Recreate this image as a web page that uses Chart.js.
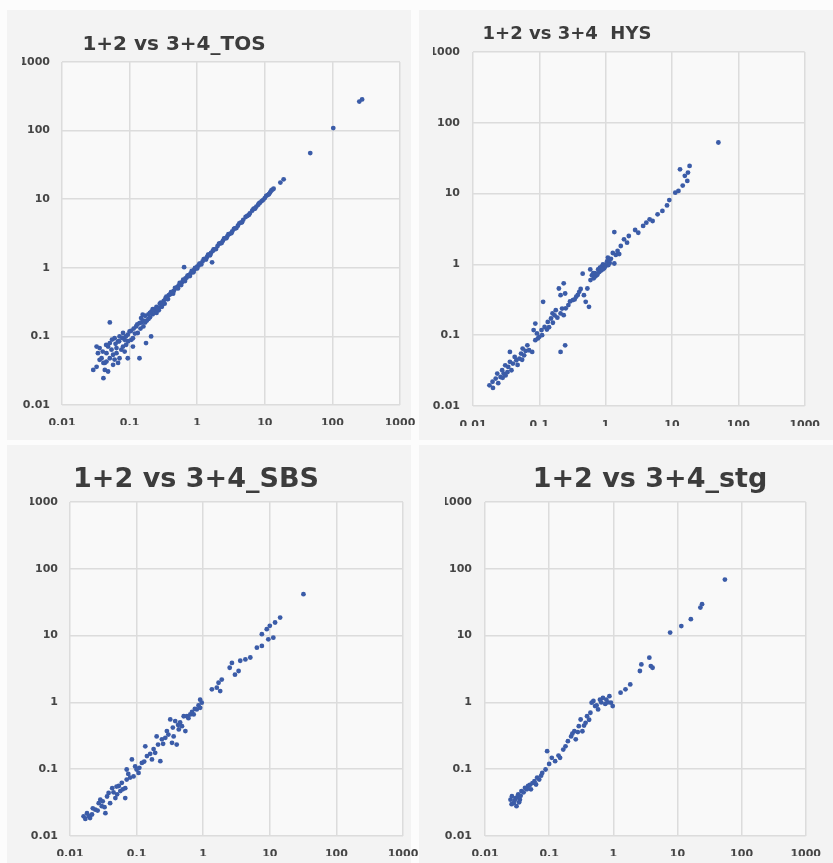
<!DOCTYPE html>
<html><head><meta charset="utf-8">
<script src="https://cdn.jsdelivr.net/npm/chart.js@4/dist/chart.umd.min.js"></script>
<style>
html,body{margin:0;padding:0;background:#fcfcfc;width:833px;height:863px;overflow:hidden;position:relative;}
.panel{position:absolute;background:#f3f3f3;}
.title{position:absolute;font-family:"DejaVu Sans",sans-serif;font-weight:bold;color:#3c3c3c;white-space:pre;transform:translate(-50%,-50%);line-height:1;}
canvas{position:absolute;left:0;top:0;}
</style></head><body>
<div class="panel" style="left:7px;top:10px;width:404px;height:430px"></div>
<div class="panel" style="left:419px;top:10px;width:414px;height:430px"></div>
<div class="panel" style="left:7px;top:445px;width:404px;height:418px"></div>
<div class="panel" style="left:419px;top:445px;width:414px;height:418px"></div>
<canvas id="c1" width="833" height="863"></canvas>
<canvas id="c2" width="833" height="863"></canvas>
<canvas id="c3" width="833" height="863"></canvas>
<canvas id="c4" width="833" height="863"></canvas>
<div class="title" style="left:174px;top:43px;font-size:20px">1+2 vs 3+4_TOS</div>
<div class="title" style="left:567px;top:33px;font-size:18px">1+2 vs 3+4  HYS</div>
<div class="title" style="left:196px;top:477px;font-size:27px">1+2 vs 3+4_SBS</div>
<div class="title" style="left:650px;top:477px;font-size:27px">1+2 vs 3+4_stg</div>
<script>
const tickValues = [0.01, 0.1, 1, 10, 100, 1000];
const tickLabels = ['0.01', '0.1', '1', '10', '100', '1000'];

const tosPoints = [
[0.029,0.0325],[0.0325,0.036],[0.041,0.0246],[0.036,0.0675],[0.0325,0.071],[0.034,0.057],[0.0385,0.048],[0.043,0.041],[0.0455,0.057],[0.048,0.071],[0.051,0.08],[0.051,0.16],[0.057,0.054],[0.06,0.046],[0.064,0.0675],[0.0675,0.0845],[0.071,0.1],[0.0755,0.064],[0.08,0.112],[0.0845,0.089],[0.089,0.0755],[0.094,0.106],[0.1,0.118],[0.106,0.089],[0.112,0.071],[0.125,0.14],[0.14,0.156],[0.148,0.185],[0.156,0.207],[0.132,0.112],[0.048,0.0308],[0.043,0.0325],[0.057,0.0385],[0.0675,0.041],[0.071,0.048],[0.041,0.041],[0.051,0.048],[0.06,0.094],[0.054,0.064],[0.064,0.057],[0.036,0.0455],[0.0455,0.043],[0.08,0.071],[0.094,0.048],[0.14,0.048],[0.175,0.08],[0.208,0.1],[0.112,0.094],[0.0845,0.06],
[0.04,0.06],[0.045,0.075],[0.055,0.09],[0.062,0.078],[0.07,0.085],[0.078,0.095],[0.088,0.1],[0.095,0.085],[0.105,0.12],[0.115,0.13],[0.12,0.11],[0.13,0.15],[0.15,0.16],[0.16,0.14],[0.145,0.13],
[0.16,0.17],[0.17,0.2],[0.18,0.17],[0.19,0.21],[0.2,0.19],[0.21,0.23],[0.22,0.21],[0.23,0.25],[0.24,0.23],[0.25,0.27],[0.27,0.26],[0.28,0.3],[0.3,0.29],[0.32,0.33],[0.34,0.36],[0.36,0.35],[0.38,0.4],[0.4,0.41],[0.42,0.44],[0.45,0.46],[0.48,0.5],[0.5,0.52],[0.53,0.55],[0.56,0.58],[0.6,0.62],[0.63,0.65],[0.67,0.7],[0.7,0.72],[0.75,0.78],[0.8,0.83],[0.85,0.88],[0.9,0.93],[0.95,0.98],[1.0,1.04],[1.05,1.08],[1.1,1.14],[1.2,1.24],[1.3,1.35],[1.4,1.44],[1.5,1.56],[1.6,1.65],[1.7,1.76],[1.8,1.86],[2.0,2.07],[2.2,2.28],[2.4,2.47],[2.6,2.7],[2.8,2.9],[3.0,3.1],[3.3,3.4],[3.6,3.75],[4.0,4.1],[4.4,4.55],[4.8,5.0],[5.5,5.7],[6.0,6.2],[6.5,6.8],[7.0,7.3],[7.5,7.8],[8,8.3],[8.5,8.9],[9,9.4],[10,10.4],[11,11.5],[12,12.6],[13,13.8],
[0.25,0.22],[0.27,0.24],[0.3,0.27],[0.33,0.3],[0.22,0.25],[0.19,0.18],
[0.17,0.16],[0.2,0.22],[0.22,0.24],[0.26,0.25],[0.29,0.31],[0.31,0.3],[0.35,0.38],[0.37,0.35],[0.41,0.44],[0.44,0.42],[0.47,0.51],[0.52,0.5],[0.55,0.6],[0.58,0.56],[0.62,0.67],[0.66,0.64],[0.72,0.77],[0.78,0.76],[0.83,0.9],[0.88,0.86],[0.93,1.0],[1.0,0.98],[1.08,1.15],[1.15,1.12],[1.25,1.34],[1.35,1.32],[1.45,1.55],[1.55,1.52],[1.75,1.85],[1.9,1.88],[2.1,2.25],[2.3,2.3],[2.5,2.68],[2.7,2.7],[2.9,3.1],[3.2,3.2],[3.5,3.7],[3.8,3.8],[4.2,4.45],[4.6,4.6],[5.2,5.5],[5.8,5.9],[6.8,7.2],[7.2,7.3],[8.2,8.7],[9.5,9.8],[10.5,11.2],[11.5,11.8],[12.5,13.4],[13.5,14.2],
[0.64,1.02],[1.66,1.2],[17,17.5],[19,19.5],[47,47],[103,109],[250,265],[275,285]
];

const hysPoints = [
[0.0177,0.0196],[0.0197,0.022],[0.022,0.0244],[0.0232,0.0287],[0.026,0.0257],[0.0275,0.032],[0.029,0.0287],[0.0306,0.0376],[0.034,0.0356],[0.036,0.042],[0.038,0.032],[0.04,0.0397],[0.0425,0.0494],[0.045,0.0443],[0.05,0.0468],[0.053,0.055],[0.056,0.0648],[0.059,0.052],[0.066,0.072],[0.07,0.0613],[0.078,0.058],[0.036,0.058],[0.087,0.085],[0.092,0.106],[0.087,0.146],[0.082,0.118],[0.1,0.095],[0.108,0.118],[0.114,0.296],[0.12,0.131],[0.134,0.154],[0.15,0.172],[0.158,0.203],[0.177,0.226],[0.187,0.177],[0.209,0.203],[0.22,0.238],[0.233,0.192],[0.197,0.457],[0.209,0.368],[0.233,0.54],[0.245,0.388],[0.209,0.058],[0.245,0.072],[0.274,0.266],[0.32,0.313],[0.36,0.35],[0.4,0.41],[0.45,0.74],[0.47,0.368],[0.5,0.296],[0.56,0.252],[0.53,0.457],
[0.02,0.018],[0.024,0.021],[0.028,0.025],[0.031,0.027],[0.033,0.03],[0.047,0.038],[0.055,0.045],[0.062,0.06],[0.095,0.09],[0.11,0.1],[0.13,0.12],[0.14,0.13],[0.16,0.15],[0.17,0.19],[0.25,0.24],[0.29,0.3],[0.34,0.32],[0.38,0.37],[0.42,0.45],
[0.59,0.6],[0.586,0.85],[0.66,0.635],[0.69,0.75],[0.73,0.705],[0.77,0.85],[0.8,0.78],[0.87,0.93],[0.91,1.0],[0.95,0.88],[0.97,0.98],[1.05,1.1],[1.08,1.25],[1.15,1.05],[1.2,1.2],[1.28,1.45],[1.35,1.03],[1.35,2.86],[1.42,1.36],[1.51,1.55],[1.6,1.4],[1.69,1.82],[1.89,2.26],[2.1,2.03],[2.23,2.52],[2.78,3.06],[3.1,2.8],[3.67,3.49],[4.1,3.88],[4.6,4.33],[5.1,4.1],[6.06,5.1],[7.16,5.7],[8.4,6.8],[9.1,8.1],[11.2,10.3],[12.5,10.9],[13.2,22.0],[14.5,13],[15.6,17.8],[17.4,19.8],[18.4,24.6],[17.0,15.1],[50,52.7],
[0.62,0.7],[0.7,0.68],[0.75,0.72],[0.82,0.9],[0.85,0.82],[0.9,0.85],[1.0,0.95],[1.1,0.98],[1.12,1.15],[0.65,0.75]
];

const sbsPoints = [
[0.016,0.0197],[0.018,0.022],[0.02,0.0186],[0.0214,0.021],[0.024,0.0248],[0.027,0.031],[0.0285,0.035],[0.03,0.028],[0.034,0.022],[0.036,0.039],[0.038,0.044],[0.04,0.031],[0.043,0.052],[0.048,0.037],[0.051,0.042],[0.054,0.056],[0.057,0.047],[0.06,0.0625],[0.0675,0.052],[0.0675,0.037],[0.071,0.07],[0.071,0.099],[0.085,0.14],[0.09,0.078],[0.1,0.099],[0.107,0.088],[0.12,0.124],[0.135,0.22],[0.143,0.157],[0.17,0.14],[0.19,0.176],[0.2,0.31],[0.21,0.234],[0.227,0.132],[0.24,0.28],[0.27,0.295],[0.285,0.372],[0.32,0.556],[0.34,0.248],[0.36,0.31],[0.38,0.525],[0.4,0.234],[0.43,0.394],[0.48,0.44],[0.51,0.62],[0.54,0.372],[0.57,0.62],[0.64,0.66],[0.72,0.66],[0.8,0.785],[0.9,0.83],[0.9,1.1],[0.95,0.99],[1.35,1.57],[1.6,1.66],[1.8,1.48],[1.7,1.97],[1.9,2.2],[2.5,3.3],[2.7,3.9],[3.0,2.6],[3.4,2.95],[3.6,4.2],[4.3,4.4],[5.1,4.7],[6.4,6.6],[7.6,7.0],[7.6,10.5],[9.0,12.5],[9.5,8.8],[10,14],[11.3,9.3],[12,15.7],[14.3,18.6],[32,41.7],
[0.017,0.018],[0.019,0.02],[0.022,0.026],[0.026,0.024],[0.031,0.033],[0.033,0.027],[0.045,0.045],[0.05,0.055],[0.062,0.05],[0.075,0.085],[0.08,0.075],[0.095,0.11],[0.11,0.105],[0.13,0.13],[0.16,0.17],[0.18,0.2],[0.25,0.24],[0.3,0.33],[0.35,0.42],[0.42,0.46],[0.45,0.5],[0.6,0.58],[0.68,0.72],[0.75,0.8],[0.85,0.9]
];

const stgPoints = [
[0.025,0.035],[0.0263,0.0395],[0.028,0.031],[0.03,0.037],[0.031,0.028],[0.033,0.042],[0.035,0.035],[0.037,0.047],[0.042,0.0525],[0.047,0.056],[0.052,0.05],[0.059,0.066],[0.0625,0.059],[0.07,0.07],[0.078,0.088],[0.088,0.099],[0.093,0.186],[0.11,0.148],[0.124,0.132],[0.148,0.148],[0.166,0.197],[0.196,0.263],[0.22,0.31],[0.247,0.37],[0.26,0.28],[0.29,0.44],[0.31,0.555],[0.33,0.37],[0.37,0.495],[0.39,0.62],[0.44,0.7],[0.46,0.99],[0.49,1.05],[0.52,0.88],[0.58,0.785],[0.62,1.1],[0.69,1.17],[0.78,1.1],[0.87,1.24],[0.92,0.99],[0.98,0.88],[1.3,1.4],[1.55,1.57],[1.84,1.86],[2.6,2.95],[2.74,3.7],[3.65,4.67],[3.85,3.5],[4.1,3.3],[7.7,11.1],[11.5,13.9],[16.2,17.6],[22.8,26.3],[24.2,29.5],[55,69],
[0.026,0.03],[0.029,0.034],[0.032,0.038],[0.034,0.032],[0.036,0.04],[0.04,0.045],[0.045,0.05],[0.05,0.058],[0.055,0.062],[0.065,0.075],[0.075,0.08],[0.1,0.12],[0.14,0.16],[0.18,0.22],[0.23,0.34],[0.28,0.36],[0.35,0.45],[0.42,0.55],[0.55,0.9],[0.65,1.0],[0.75,0.95],[0.82,1.0]
];

const plotBg = {
  id: 'plotBg',
  beforeDraw(chart) {
    const a = chart.chartArea, ctx = chart.ctx;
    ctx.save();
    ctx.fillStyle = '#f9f9f9';
    ctx.fillRect(a.left, a.top, a.right - a.left, a.bottom - a.top);
    ctx.restore();
  }
};

const tickFont = {family: 'DejaVu Sans', weight: 'bold', size: 11};

function makeChart(id, points, box) {
  const W = 833, H = 863, yw = 40, xh = 20;
  const logAxis = (extra) => Object.assign({
    type: 'logarithmic', min: 0.01, max: 1000,
    afterBuildTicks: s => { s.ticks = tickValues.map(v => ({value: v})); },
    grid: {color: '#dcdcdc', lineWidth: 1.5, drawTicks: false},
    border: {display: false}
  }, extra);
  return new Chart(document.getElementById(id), {
    type: 'scatter',
    data: {datasets: [{
      data: points.map(p => ({x: p[0], y: p[1]})),
      backgroundColor: '#3b5ca8', borderWidth: 0,
      pointRadius: 2.4, pointHoverRadius: 2.4
    }]},
    options: {
      responsive: false, animation: false, events: [],
      layout: {padding: {left: box.l - yw, right: W - box.r, top: box.t, bottom: H - box.b - xh}},
      plugins: {legend: {display: false}, tooltip: {enabled: false}, title: {display: false}},
      scales: {
        x: logAxis({
          afterFit: s => { s.height = xh; },
          ticks: {callback: (v, i) => tickLabels[i], padding: box.xp, font: tickFont, color: '#454545', maxRotation: 0, autoSkip: false}
        }),
        y: logAxis({
          afterFit: s => { s.width = yw; },
          ticks: {callback: (v, i) => tickLabels[i], padding: box.yp, font: tickFont, color: '#454545', autoSkip: false}
        })
      }
    },
    plugins: [plotBg]
  });
}

makeChart('c1', tosPoints, {l: 62, r: 400, t: 62, b: 405, xp: 12, yp: 12});
makeChart('c2', hysPoints, {l: 473, r: 818, t: 52, b: 406, xp: 13, yp: 13});
makeChart('c3', sbsPoints, {l: 70, r: 403, t: 502, b: 836, xp: 12, yp: 12});
makeChart('c4', stgPoints, {l: 485, r: 818, t: 502, b: 836, xp: 12, yp: 13});
</script>
</body></html>
